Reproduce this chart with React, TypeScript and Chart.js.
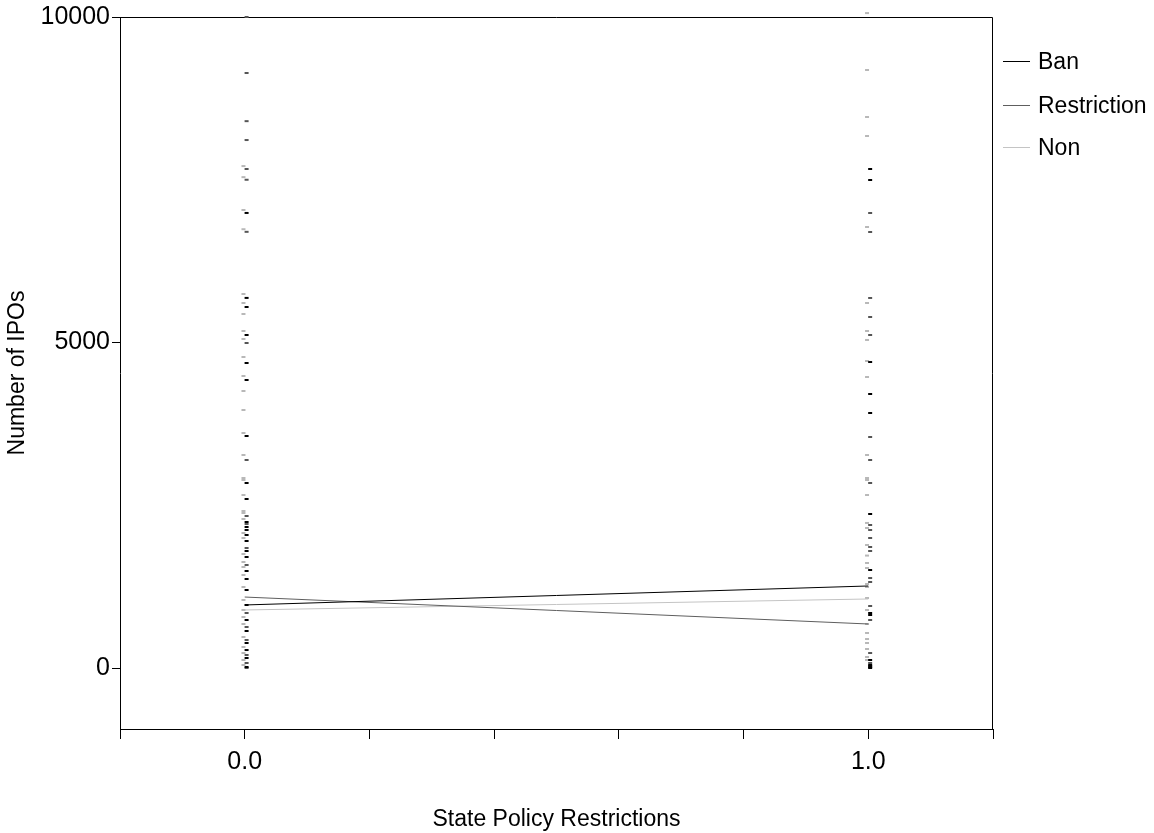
import { useEffect, useRef } from 'react';
import { Chart, registerables } from 'chart.js';

Chart.register(...registerables);

// ---- data ----
const categories = [0, 1];
const categoryLabels = ['0.0', '1.0'];
const seriesNames = ['Ban', 'Restriction', 'Non'];

// fitted lines (group means)
const lineBan = [968, 1260];
const lineRestriction = [1090, 676];
const lineNon = [891, 1060];

// observations at State Policy Restrictions = 0.0
const ban0 = [6990, 5685, 5545, 5115, 4685, 4424, 3564, 2842, 2596, 2243, 2166, 2120, 2043, 1951, 1797, 1705, 1490, 1367, 1198, 968, 737, 568, 384, 276, 154, 15];
const restriction0 = [10000, 9140, 8400, 8110, 7665, 7500, 6700, 4992, 3195, 2335, 2212, 1843, 1582, 845, 630, 430, 200, 77, 0];
const non0 = [7710, 7540, 7035, 6740, 5745, 5607, 5438, 5177, 5054, 4777, 4485, 4255, 3963, 3610, 3272, 2919, 2888, 2657, 2412, 2381, 2289, 2074, 1997, 1751, 1628, 1551, 1429, 1244, 1045, 891, 783, 676, 476, 323, 230, 123, 46];

// observations at State Policy Restrictions = 1.0
const ban1 = [7665, 7496, 4700, 4209, 3917, 2366, 1505, 845, 814, 123, 46, 15, 0];
const restriction1 = [6989, 6697, 5684, 5392, 5115, 3548, 3195, 2842, 2197, 2120, 1997, 1859, 1797, 1382, 1321, 952, 737, 230, 77, 31];
const non1 = [10060, 9186, 8464, 8172, 6774, 5607, 5177, 5039, 4716, 4470, 3272, 2919, 2888, 2657, 2228, 2151, 1889, 1727, 1613, 1536, 1290, 1244, 1075, 891, 676, 538, 445, 384, 292, 169, 123];

const yTicks = [0, 5000, 10000];
const yMin = -937;
const yMax = 10000;
const xMin = -0.2;
const xMax = 1.2;
const xStep = 0.2;

// ---- styles ----
const lineColors = ['#000000', '#5e5e5e', '#c4c4c4'];
const markColors = ['#000000', '#555555', '#b8b8b8'];
const markOffsets = [0.003, 0.003, -0.002];
const FONT = "'Liberation Sans', Arial, Helvetica, sans-serif";

function toPoints(vals: number[], x: number, dx: number) {
  return vals.map((y) => ({ x: x + dx, y }));
}

const legendPlugin = {
  id: 'spssLegend',
  afterDraw(chart: any) {
    const ctx = chart.ctx;
    const ys = [61, 105, 147];
    ctx.save();
    ctx.font = `23px ${FONT}`;
    ctx.textBaseline = 'middle';
    ctx.textAlign = 'left';
    seriesNames.forEach((name, i) => {
      ctx.strokeStyle = lineColors[i];
      ctx.lineWidth = 1;
      ctx.beginPath();
      ctx.moveTo(1003, ys[i] + 0.5);
      ctx.lineTo(1030, ys[i] + 0.5);
      ctx.stroke();
      ctx.fillStyle = '#000';
      ctx.fillText(name, 1038, ys[i] + 2);
    });
    ctx.restore();
  },
};

const framePlugin = {
  id: 'frame',
  beforeDatasetsDraw(chart: any) {
    const { ctx, chartArea } = chart;
    const l = Math.round(chartArea.left);
    const t = Math.round(chartArea.top) + 0.5;
    const r = Math.round(chartArea.right) - 0.5;
    const b = Math.round(chartArea.bottom);
    ctx.save();
    ctx.strokeStyle = '#000';
    ctx.lineWidth = 1;
    ctx.beginPath();
    ctx.moveTo(l, t);
    ctx.lineTo(r, t);
    ctx.lineTo(r, b);
    ctx.stroke();
    ctx.restore();
  },
};

export default function App() {
  const ref = useRef<HTMLCanvasElement | null>(null);

  useEffect(() => {
    document.body.style.margin = '0';
    if (!ref.current) return;
    const lines = [lineBan, lineRestriction, lineNon];
    const obs0 = [ban0, restriction0, non0];
    const obs1 = [ban1, restriction1, non1];

    const datasets: any[] = [];
    lines.forEach((vals, i) => {
      datasets.push({
        type: 'line',
        label: seriesNames[i],
        data: categories.map((c, k) => ({ x: c, y: vals[k] })),
        borderColor: lineColors[i],
        backgroundColor: lineColors[i],
        borderWidth: 1,
        pointRadius: 0,
        fill: false,
        tension: 0,
      });
    });
    [obs0, obs1].forEach((obs, k) => {
      obs.forEach((vals, i) => {
        datasets.push({
          type: 'scatter',
          label: seriesNames[i] + ' obs ' + categoryLabels[k],
          data: toPoints(vals, categories[k], markOffsets[i]),
          pointStyle: 'line',
          pointRadius: 2,
          pointHoverRadius: 2,
          borderWidth: 2,
          borderColor: markColors[i],
          backgroundColor: markColors[i],
          clip: false,
        });
      });
    });

    const chart = new Chart(ref.current, {
      type: 'scatter',
      data: { datasets },
      options: {
        animation: false,
        responsive: true,
        maintainAspectRatio: false,
        layout: { padding: { top: 17, right: 161, bottom: 0, left: 0 } },
        plugins: {
          legend: { display: false },
          tooltip: { enabled: false },
        },
        scales: {
          x: {
            type: 'linear',
            min: xMin,
            max: xMax,
            afterBuildTicks: (scale: any) => {
              const t: any[] = [];
              for (let i = 0; i <= Math.round((xMax - xMin) / xStep); i++) {
                t.push({ value: +(xMin + i * xStep).toFixed(6) });
              }
              scale.ticks = t;
            },
            afterFit: (scale: any) => {
              scale.height = 104;
            },
            ticks: {
              autoSkip: false,
              maxRotation: 0,
              padding: 8,
              color: '#000',
              font: { family: FONT, size: 25 },
              callback: (v: any) => {
                const idx = categories.findIndex((c) => Math.abs(c - Number(v)) < 1e-6);
                return idx >= 0 ? categoryLabels[idx] : '';
              },
            },
            grid: {
              display: true,
              drawOnChartArea: false,
              drawTicks: true,
              tickLength: 10,
              color: '#000',
            },
            border: { display: true, color: '#000' },
            title: {
              display: true,
              text: 'State Policy Restrictions',
              color: '#000',
              font: { family: FONT, size: 23 },
              padding: { top: 0, bottom: 0 },
            },
          },
          y: {
            type: 'linear',
            min: yMin,
            max: yMax,
            afterBuildTicks: (scale: any) => {
              scale.ticks = yTicks.map((v) => ({ value: v }));
            },
            afterFit: (scale: any) => {
              scale.width = 120;
            },
            ticks: {
              padding: 2,
              color: '#000',
              font: { family: FONT, size: 25 },
              callback: (v: any) => String(v),
            },
            grid: {
              display: true,
              drawOnChartArea: false,
              drawTicks: true,
              tickLength: 8,
              color: '#000',
            },
            border: { display: true, color: '#000' },
            title: {
              display: true,
              text: 'Number of IPOs',
              color: '#000',
              font: { family: FONT, size: 23 },
              padding: { top: 4, bottom: 0 },
            },
          },
        },
      } as any,
      plugins: [framePlugin, legendPlugin],
    });
    return () => chart.destroy();
  }, []);

  return (
    <div style={{ width: 1154, height: 833, position: 'relative' }}>
      <canvas ref={ref} />
    </div>
  );
}
